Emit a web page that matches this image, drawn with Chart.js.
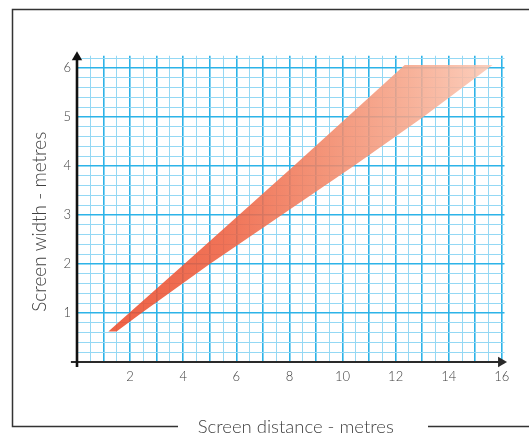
<!DOCTYPE html>
<html>
<head>
<meta charset="utf-8">
<script src="https://cdn.jsdelivr.net/npm/chart.js@4.4.1/dist/chart.umd.min.js"></script>
<style>
  html, body { margin: 0; padding: 0; background: #ffffff; }
  #wrap { position: relative; width: 529px; height: 434px; }
  canvas { display: block; }
</style>
</head>
<body>
<div id="wrap"><canvas id="c" width="529" height="434"></canvas></div>
<script>
// ---- data ----
// upper edge of the recommended band (screen distance m -> screen width m)
const upperDistance = [1.18, 4.04, 8.16, 12.34];
const upperWidth    = [0.62, 2.0, 4.0, 6.06];
// lower edge, walked back from the top-right corner
const lowerDistance = [15.65, 13.04, 10.42, 5.0, 2.43, 1.49];
const lowerWidth    = [6.06, 5.0, 4.0, 2.0, 1.0, 0.62];
// labelled ticks
const xTickLabels = [2, 4, 6, 8, 10, 12, 14, 16];
const yTickLabels = [1, 2, 3, 4, 5, 6];
// axis lines (with arrow end)
const xAxisLine = [[-0.23, 0], [15.97, 0]];
const yAxisLine = [[0, -0.1], [0, 6.22]];

const xTitle = '\u00A0\u00A0Screen distance - metres';
const yTitle = 'Screen width - metres\u00A0\u00A0\u00A0\u00A0\u00A0';

// ---- build datasets ----
const bandPoints = [];
upperDistance.forEach((d, i) => bandPoints.push({ x: d, y: upperWidth[i] }));
lowerDistance.forEach((d, i) => bandPoints.push({ x: d, y: lowerWidth[i] }));
bandPoints.push({ x: upperDistance[0], y: upperWidth[0] });

const isInt = v => Math.abs(v - Math.round(v)) < 1e-9;

function bandFill(ctx) {
  const chart = ctx.chart;
  const xs = chart.scales && chart.scales.x;
  if (!chart.chartArea || !xs) return 'rgba(240,110,80,0.88)';
  const g = chart.ctx.createLinearGradient(xs.getPixelForValue(1), 0, xs.getPixelForValue(16), 0);
  g.addColorStop(0.00, 'rgba(236,74,42,0.87)');
  g.addColorStop(0.30, 'rgba(238,94,62,0.87)');
  g.addColorStop(0.55, 'rgba(242,132,100,0.87)');
  g.addColorStop(0.76, 'rgba(246,164,136,0.87)');
  g.addColorStop(1.00, 'rgba(252,204,184,0.87)');
  return g;
}

const framePlugin = {
  id: 'frame',
  beforeDraw(chart) {
    const c = chart.ctx;
    c.save();
    c.fillStyle = '#ffffff';
    c.fillRect(0, 0, chart.width, chart.height);
    c.strokeStyle = '#333333';
    c.lineWidth = 1.5;
    c.beginPath();
    c.moveTo(529, 9.5); c.lineTo(12.5, 9.5); c.lineTo(12.5, 426.5); c.lineTo(178, 426.5);
    c.moveTo(428, 426.5); c.lineTo(529, 426.5);
    c.stroke();
    c.restore();
  }
};

const fontFamily = 'Lato, "Open Sans", sans-serif';

new Chart(document.getElementById('c'), {
  type: 'line',
  data: {
    datasets: [
      {
        label: 'y axis',
        data: yAxisLine.map(p => ({ x: p[0], y: p[1] })),
        borderColor: '#111111',
        backgroundColor: '#111111',
        borderWidth: 2.6,
        pointRadius: [0, 6],
        pointStyle: 'triangle',
        rotation: 0,
        pointBorderWidth: 0,
        fill: false,
        clip: false,
        tension: 0
      },
      {
        label: 'x axis',
        data: xAxisLine.map(p => ({ x: p[0], y: p[1] })),
        borderColor: '#2a2a2a',
        backgroundColor: '#2a2a2a',
        borderWidth: 2.2,
        pointRadius: [0, 6],
        pointStyle: 'triangle',
        rotation: 90,
        pointBorderWidth: 0,
        fill: false,
        clip: false,
        tension: 0
      },
      {
        label: 'band',
        data: bandPoints,
        borderWidth: 0,
        borderColor: 'rgba(0,0,0,0)',
        backgroundColor: bandFill,
        pointRadius: 0,
        fill: 'shape',
        tension: 0
      }
    ]
  },
  options: {
    responsive: false,
    maintainAspectRatio: false,
    animation: false,
    devicePixelRatio: 1,
    layout: { padding: { top: 55.75, right: 24.5, left: 0, bottom: 0 } },
    plugins: { legend: { display: false }, tooltip: { enabled: false } },
    scales: {
      x: {
        type: 'linear',
        min: 0,
        max: 16.1,
        afterFit(scale) { scale.height = 72; },
        border: { display: false },
        grid: {
          drawTicks: false,
          color: c => isInt(c.tick.value) ? '#2cb3e8' : '#94d8f4',
          lineWidth: c => isInt(c.tick.value) ? 1.6 : 1
        },
        ticks: {
          stepSize: 0.5,
          includeBounds: false,
          autoSkip: false,
          maxRotation: 0,
          padding: 7,
          color: '#404040',
          font: { family: fontFamily, size: 13, weight: '300' },
          callback: v => (isInt(v) && xTickLabels.includes(Math.round(v))) ? String(Math.round(v)) : ''
        },
        title: {
          display: true,
          text: xTitle,
          color: '#404040',
          font: { family: fontFamily, size: 18.5, weight: '300', lineHeight: 0.8 },
          padding: 0
        }
      },
      y: {
        type: 'linear',
        min: 0,
        max: 6.25,
        afterFit(scale) { scale.width = 77; },
        border: { display: false },
        grid: {
          drawTicks: false,
          color: c => isInt(c.tick.value) ? '#2cb3e8' : '#94d8f4',
          lineWidth: c => isInt(c.tick.value) ? 1.6 : 1
        },
        ticks: {
          stepSize: 0.2,
          includeBounds: false,
          autoSkip: false,
          padding: 6,
          color: '#404040',
          font: { family: fontFamily, size: 13, weight: '300' },
          callback: v => (isInt(v) && yTickLabels.includes(Math.round(v))) ? String(Math.round(v)) : ''
        },
        title: {
          display: true,
          text: yTitle,
          color: '#404040',
          font: { family: fontFamily, size: 19, weight: '300', lineHeight: 1.2 },
          padding: { top: 28, bottom: 0 }
        }
      }
    }
  },
  plugins: [framePlugin]
});
</script>
</body>
</html>
